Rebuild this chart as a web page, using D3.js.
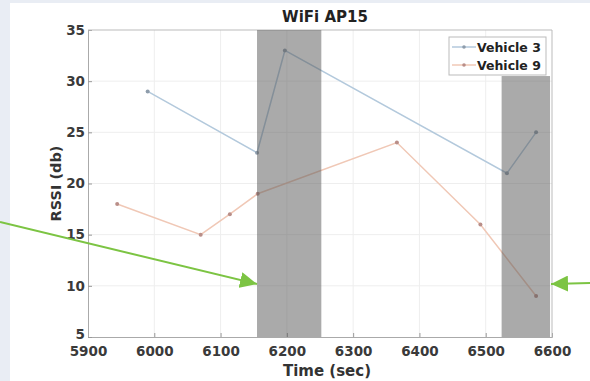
<!DOCTYPE html>
<html><head><meta charset="utf-8">
<script src="https://cdn.jsdelivr.net/npm/d3@7"></script>
<style>html,body{margin:0;padding:0;background:#e9edf4;}svg{display:block;}</style>
</head><body>
<svg id="c" width="590" height="381"></svg>
<script>
const xTicks = [5900, 6000, 6100, 6200, 6300, 6400, 6500, 6600];
const yTicks = [5, 10, 15, 20, 25, 30, 35];
const seriesNames = ["Vehicle 3", "Vehicle 9"];
const v3Time = [5990, 6155, 6197, 6532, 6576];
const v3Rssi = [29, 23, 33, 21, 25];
const v9Time = [5944, 6070, 6114, 6156, 6366, 6492, 6576];
const v9Rssi = [18, 15, 17, 19, 24, 16, 9];
const shadeStart = [6155, 6524];
const shadeEnd = [6252, 6597];
const shadeTop = [35, 30.5];

const svg = d3.select("#c");
const W = 590, H = 381;
const m = {l: 88, r: 552, t: 30, b: 337};
const x = d3.scaleLinear().domain([5900, 6600]).range([m.l, m.r]);
const y = d3.scaleLinear().domain([5, 35]).range([m.b, m.t]);
const font = "'DejaVu Sans', Verdana, sans-serif";

svg.append("rect").attr("x", 10).attr("y", 3).attr("width", W - 10).attr("height", H - 3).attr("fill", "#fff");

// grid
const g = svg.append("g");
g.selectAll(".gx").data(xTicks.slice(1, -1)).enter().append("line")
  .attr("x1", d => x(d)).attr("x2", d => x(d)).attr("y1", m.t).attr("y2", m.b)
  .attr("stroke", "#eeeeee").attr("stroke-width", 1);
g.selectAll(".gy").data(yTicks.slice(1, -1)).enter().append("line")
  .attr("y1", d => y(d)).attr("y2", d => y(d)).attr("x1", m.l).attr("x2", m.r)
  .attr("stroke", "#eeeeee").attr("stroke-width", 1);

// axes
const xa = d3.axisBottom(x).tickValues(xTicks).tickSize(-4).tickPadding(9).tickFormat(d3.format("d"));
const ya = d3.axisLeft(y).tickValues(yTicks).tickSize(-4).tickPadding(3);
const gx = svg.append("g").attr("transform", `translate(0,${m.b})`).call(xa);
const gy = svg.append("g").attr("transform", `translate(${m.l},0)`).call(ya);
[gx, gy].forEach(a => {
  a.select(".domain").attr("stroke", "#aaa");
  a.selectAll(".tick line").attr("stroke", "#999");
  a.selectAll("text").attr("font-family", font).attr("font-weight", "bold").attr("font-size", 13.5).attr("fill", "#3a3a3a");
});
gy.selectAll(".tick text").filter(d => d === 5).attr("dy", "0.1em");
// top/right box
svg.append("line").attr("x1", m.l).attr("x2", m.r).attr("y1", m.t).attr("y2", m.t).attr("stroke", "#bbb");
svg.append("line").attr("x1", m.r).attr("x2", m.r).attr("y1", m.t).attr("y2", m.b).attr("stroke", "#bbb");

// series
const v3 = v3Time.map((t, i) => [t, v3Rssi[i]]);
const v9 = v9Time.map((t, i) => [t, v9Rssi[i]]);
const line = d3.line().x(d => x(d[0])).y(d => y(d[1]));
const cols = ["#b3c9dc", "#f0c8b6"];
const mk = ["#8e9cab", "#b98e88"];
[v3, v9].forEach((s, i) => {
  svg.append("path").datum(s).attr("d", line).attr("fill", "none").attr("stroke", cols[i]).attr("stroke-width", 1.5);
  svg.selectAll(null).data(s).enter().append("circle")
    .attr("cx", d => x(d[0])).attr("cy", d => y(d[1])).attr("r", 2).attr("fill", mk[i]);
});

// shaded regions (overlay)
shadeStart.forEach((s, i) => {
  svg.append("rect").attr("x", x(s)).attr("y", y(shadeTop[i]))
    .attr("width", x(shadeEnd[i]) - x(s)).attr("height", m.b - y(shadeTop[i]))
    .attr("fill", "#555").attr("opacity", 0.5);
});

// title & labels
svg.append("text").attr("x", 325).attr("y", 22).attr("text-anchor", "middle")
  .attr("font-family", font).attr("font-weight", "bold").attr("font-size", 15).attr("fill", "#222").text("WiFi AP15");
svg.append("text").attr("x", 327).attr("y", 376).attr("text-anchor", "middle")
  .attr("font-family", font).attr("font-weight", "bold").attr("font-size", 15).attr("fill", "#333").text("Time (sec)");
svg.append("text").attr("transform", `translate(61,${(m.t + m.b) / 2}) rotate(-90)`).attr("text-anchor", "middle")
  .attr("font-family", font).attr("font-weight", "bold").attr("font-size", 14.5).attr("fill", "#333").text("RSSI (db)");

// legend
const lg = svg.append("g");
lg.append("rect").attr("x", 449).attr("y", 37).attr("width", 97).attr("height", 38).attr("fill", "#fff").attr("stroke", "#bbb");
seriesNames.forEach((n, i) => {
  const yy = 47 + i * 18;
  lg.append("line").attr("x1", 452).attr("x2", 476).attr("y1", yy).attr("y2", yy).attr("stroke", cols[i]).attr("stroke-width", 1.5);
  lg.append("circle").attr("cx", 464).attr("cy", yy).attr("r", 1.8).attr("fill", mk[i]);
  lg.append("text").attr("x", 477).attr("y", yy + 4.5).attr("font-family", font).attr("font-weight", "bold")
    .attr("font-size", 12.5).attr("fill", "#222").text(n);
});

// arrows
const green = "#7cc443";
const defs = svg.append("defs");
defs.append("marker").attr("id", "ah").attr("viewBox", "0 0 10 10").attr("refX", 10).attr("refY", 5)
  .attr("markerWidth", 17).attr("markerHeight", 16).attr("markerUnits", "userSpaceOnUse").attr("orient", "auto")
  .attr("preserveAspectRatio", "none")
  .append("path").attr("d", "M0,0 L10,5 L0,10 z").attr("fill", green);
svg.append("line").attr("x1", 0).attr("y1", 222).attr("x2", 257).attr("y2", 284)
  .attr("stroke", green).attr("stroke-width", 2).attr("marker-end", "url(#ah)");
svg.append("line").attr("x1", 590).attr("y1", 283).attr("x2", 551).attr("y2", 284)
  .attr("stroke", green).attr("stroke-width", 2).attr("marker-end", "url(#ah)");
</script>
</body></html>
